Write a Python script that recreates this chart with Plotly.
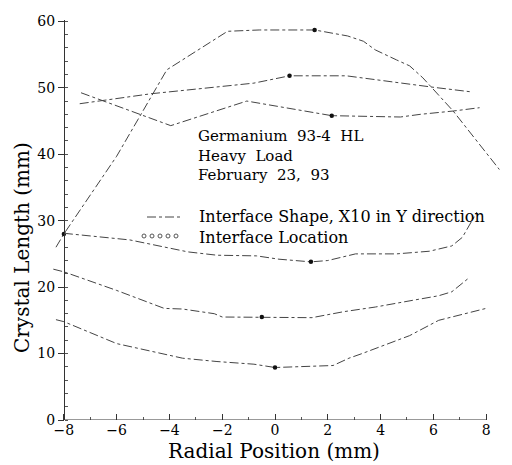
import plotly.graph_objects as go

# ---- data ----
a_x = [-8.3, -8.0, -6.0, -4.1, -1.8, -0.6, 1.5, 2.75, 3.35, 3.8, 4.6, 5.1, 5.6, 5.95, 6.75, 8.5]
a_y = [26.0, 28.0, 39.7, 52.7, 58.5, 58.7, 58.7, 57.8, 57.0, 55.7, 54.2, 53.3, 51.5, 50.0, 46.5, 37.7]

b_x = [-7.4, -4.7, -0.8, 0.55, 2.7, 4.75, 5.95, 7.4]
b_y = [47.6, 49.1, 50.7, 51.8, 51.8, 50.7, 50.1, 49.4]

c_x = [-7.35, -3.95, -1.07, 2.15, 4.75, 5.5, 6.75, 7.75]
c_y = [49.25, 44.3, 48.0, 45.8, 45.6, 46.0, 46.5, 47.0]

d_x = [-8.0, -5.5, -3.3, -2.2, -0.7, 0.15, 1.36, 2.0, 3.05, 4.6, 5.85, 6.7, 7.1, 7.65]
d_y = [28.1, 27.1, 25.3, 24.8, 24.7, 24.2, 23.8, 24.0, 25.0, 25.0, 25.4, 26.2, 27.5, 31.3]

e_x = [-8.4, -8.0, -6.0, -4.2, -3.5, -2.3, -2.0, -0.5, 1.4, 2.6, 3.8, 5.2, 6.2, 6.7, 7.35]
e_y = [22.7, 22.3, 19.5, 16.8, 16.7, 16.0, 15.5, 15.5, 15.4, 16.3, 17.0, 18.0, 18.7, 19.3, 21.4]

f_x = [-8.3, -8.0, -6.0, -3.5, -2.2, -0.8, 0.0, 2.2, 2.8, 3.3, 5.1, 6.2, 8.0]
f_y = [15.1, 14.8, 11.5, 9.3, 8.8, 8.4, 7.9, 8.2, 9.3, 10.0, 12.7, 15.0, 16.8]

loc_x = [1.5, 0.55, 2.15, 1.36, -0.5, 0.0, -8.0]
loc_y = [58.7, 51.8, 45.8, 23.8, 15.5, 7.9, 28.0]

x_ticks = [-8, -6, -4, -2, 0, 2, 4, 6, 8]
y_ticks = [0, 10, 20, 30, 40, 50, 60]

legend_shape = "Interface Shape, X10 in Y direction"
legend_loc = "Interface Location"
NB2 = "\u00a0\u00a0"
note_lines = ["Germanium" + NB2 + "93-4" + NB2 + "HL", "Heavy" + NB2 + "Load", "February" + NB2 + "23," + NB2 + "93"]
x_title = "Radial Position (mm)"
y_title = "Crystal Length (mm)"

FONT = "DejaVu Serif"
LINE = dict(color="#444", width=1, dash="dashdot")

# pixel layout helpers
L, R, T, B = 52, 10, 20, 45
PW, PH = 512 - L - R, 465 - T - B
px = lambda p: (p - L) / PW
py = lambda p: (T + PH - p) / PH

fig = go.Figure()
curves = [(a_x, a_y), (b_x, b_y), (c_x, c_y), (d_x, d_y), (e_x, e_y), (f_x, f_y)]
for xs, ys in curves:
    fig.add_trace(go.Scatter(x=xs, y=ys, mode="lines", line=LINE,
                             name=legend_shape, showlegend=False))
fig.add_trace(go.Scatter(x=loc_x, y=loc_y, mode="markers", name=legend_loc,
                         marker=dict(symbol="circle", size=4.5, color="#111"),
                         cliponaxis=False, showlegend=False))

x_lo, x_hi = -8.45, 8.6
ypos = (x_ticks[0] - x_lo) / (x_hi - x_lo)

fig.update_layout(
    width=512, height=465,
    margin=dict(l=L, r=R, t=T, b=B),
    paper_bgcolor="white", plot_bgcolor="white",
    font=dict(family=FONT, color="black", size=14),
    showlegend=False,
    xaxis=dict(range=[x_lo, x_hi], tickvals=x_ticks, showgrid=False, zeroline=False,
               showline=False, ticks="inside", ticklen=6, tickcolor="#333",
               minor=dict(tickvals=[-7, -5, -3, -1, 1, 3, 5, 7], ticks="inside",
                          ticklen=3, tickcolor="#555"),
               tickfont=dict(size=14, family=FONT)),
    yaxis=dict(range=[0, 60.2], tickvals=y_ticks, showgrid=False, zeroline=False,
               showline=True, linecolor="#333", linewidth=1,
               anchor="free", position=ypos,
               ticks="outside", ticklen=6, tickcolor="#333",
               minor=dict(dtick=2, ticks="inside", ticklen=3, tickcolor="#555"),
               tickfont=dict(size=14, family=FONT)),
)

# x axis line from -8 to 8
fig.add_shape(type="line", xref="x", yref="y", x0=x_ticks[0], x1=x_ticks[-1], y0=0, y1=0,
              line=dict(color="#333", width=1))

# manual legend
fig.add_shape(type="line", xref="paper", yref="paper", x0=px(147), x1=px(182),
              y0=py(217), y1=py(217), line=dict(color="#444", width=1, dash="dashdot"))
for cx in [144, 152, 160, 168, 176]:
    fig.add_shape(type="circle", xref="paper", yref="paper",
                  x0=px(cx - 2), x1=px(cx + 2), y0=py(236 + 2), y1=py(236 - 2),
                  line=dict(color="#555", width=1))
fig.add_annotation(text=legend_shape + "<br>" + legend_loc, xref="paper", yref="paper",
                   x=px(197), y=py(227), xanchor="left", yanchor="middle",
                   showarrow=False, align="left", font=dict(size=16, family=FONT))

# note text
fig.add_annotation(text="<br>".join(note_lines), xref="paper", yref="paper",
                   x=px(196), y=py(155), xanchor="left", yanchor="middle",
                   showarrow=False, align="left", font=dict(size=15, family=FONT))

fig.add_annotation(text=x_title, xref="paper", yref="paper", x=px(274), y=py(465),
                   xanchor="center", yanchor="bottom", showarrow=False,
                   font=dict(size=20, family=FONT))
fig.add_annotation(text=y_title, xref="paper", yref="paper", x=px(22), y=py(248),
                   xanchor="center", yanchor="middle", showarrow=False, textangle=-90,
                   font=dict(size=20, family=FONT))

fig.write_html("out.html")
